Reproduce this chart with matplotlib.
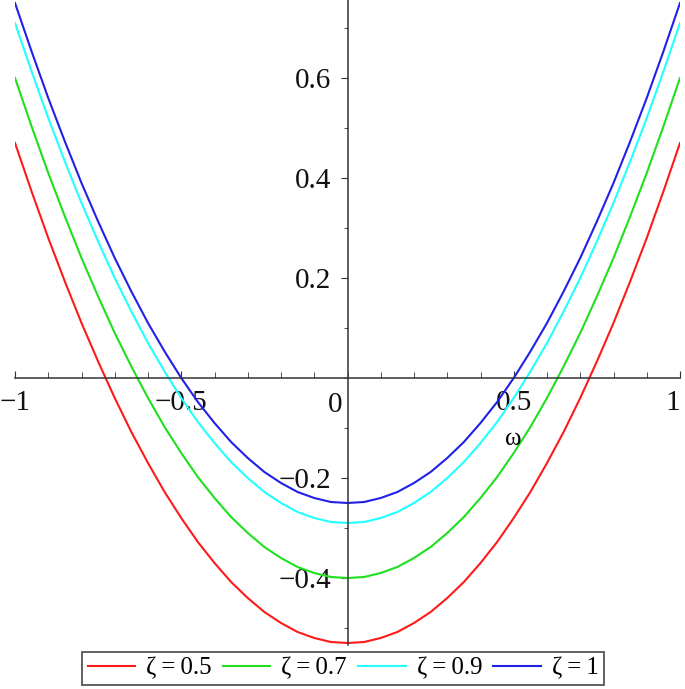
#Plot of the four parabolic curves for different damping ratios zeta

import numpy as np
import matplotlib.pyplot as plt
from matplotlib.ticker import MultipleLocator, FixedLocator, FixedFormatter

#values
omega = [-1.00, -0.95, -0.90, -0.85, -0.80, -0.75, -0.70, -0.65, -0.60, -0.55, -0.50,
         -0.45, -0.40, -0.35, -0.30, -0.25, -0.20, -0.15, -0.10, -0.05, 0.00,
         0.05, 0.10, 0.15, 0.20, 0.25, 0.30, 0.35, 0.40, 0.45, 0.50,
         0.55, 0.60, 0.65, 0.70, 0.75, 0.80, 0.85, 0.90, 0.95, 1.00]

y_red = [0.470, 0.373, 0.280, 0.193, 0.110, 0.033, -0.040, -0.108, -0.170, -0.228, -0.280,
         -0.328, -0.370, -0.408, -0.440, -0.468, -0.490, -0.508, -0.520, -0.528, -0.530,
         -0.528, -0.520, -0.508, -0.490, -0.468, -0.440, -0.408, -0.370, -0.328, -0.280,
         -0.228, -0.170, -0.108, -0.040, 0.033, 0.110, 0.193, 0.280, 0.373, 0.470]
y_green = [0.600, 0.503, 0.410, 0.323, 0.240, 0.163, 0.090, 0.023, -0.040, -0.098, -0.150,
           -0.198, -0.240, -0.278, -0.310, -0.338, -0.360, -0.378, -0.390, -0.398, -0.400,
           -0.398, -0.390, -0.378, -0.360, -0.338, -0.310, -0.278, -0.240, -0.198, -0.150,
           -0.098, -0.040, 0.023, 0.090, 0.163, 0.240, 0.323, 0.410, 0.503, 0.600]
y_cyan = [0.710, 0.613, 0.520, 0.433, 0.350, 0.273, 0.200, 0.133, 0.070, 0.013, -0.040,
          -0.088, -0.130, -0.168, -0.200, -0.228, -0.250, -0.268, -0.280, -0.288, -0.290,
          -0.288, -0.280, -0.268, -0.250, -0.228, -0.200, -0.168, -0.130, -0.088, -0.040,
          0.013, 0.070, 0.133, 0.200, 0.273, 0.350, 0.433, 0.520, 0.613, 0.710]
y_blue = [0.750, 0.653, 0.560, 0.473, 0.390, 0.313, 0.240, 0.173, 0.110, 0.053, 0.000,
          -0.048, -0.090, -0.128, -0.160, -0.188, -0.210, -0.228, -0.240, -0.248, -0.250,
          -0.248, -0.240, -0.228, -0.210, -0.188, -0.160, -0.128, -0.090, -0.048, 0.000,
          0.053, 0.110, 0.173, 0.240, 0.313, 0.390, 0.473, 0.560, 0.653, 0.750]

labels = ["ζ\u2009=\u20090.5", "ζ\u2009=\u20090.7", "ζ\u2009=\u20090.9", "ζ\u2009=\u20091"]
colors = ["#ff1a1a", "#1ee01e", "#22ffff", "#2020e8"]

xtick_vals = [-1, -0.5, 0.5, 1]
xtick_labels = ["\u22121", "\u22120.5", "0.5", "1"]
ytick_vals = [-0.4, -0.2, 0.2, 0.4, 0.6]
ytick_labels = ["\u22120.4", "\u22120.2", "0.2", "0.4", "0.6"]

serif = ["Liberation Serif", "DejaVu Serif"]

fig = plt.figure(figsize=(6.85, 6.89), dpi=100)
ax = fig.add_axes([15/685, 44/689, 665/685, 645/689])

for yv, lab, col in zip([y_red, y_green, y_cyan, y_blue], labels, colors):
    ax.plot(omega, yv, color=col, linewidth=1.5, label=lab)

#axes through the origin, Maple style
ax.set_xlim(-1, 1)
ax.set_ylim(-0.534, 0.756)
for s in ["top", "right"]:
    ax.spines[s].set_visible(False)
ax.spines["bottom"].set_position(("data", 0))
ax.spines["left"].set_position(("data", 0))
for s in ["bottom", "left"]:
    ax.spines[s].set_color("#333333")
    ax.spines[s].set_linewidth(1.1)

ax.xaxis.set_major_locator(FixedLocator(xtick_vals))
ax.xaxis.set_major_formatter(FixedFormatter(xtick_labels))
ax.xaxis.set_minor_locator(MultipleLocator(0.1))
ax.yaxis.set_major_locator(FixedLocator(ytick_vals))
ax.yaxis.set_major_formatter(FixedFormatter(ytick_labels))
ax.yaxis.set_minor_locator(MultipleLocator(0.1))

ax.tick_params(axis="x", which="both", direction="in", color="#333333", pad=9)
ax.tick_params(axis="x", which="major", length=5)
ax.tick_params(axis="x", which="minor", length=4)
ax.tick_params(axis="y", which="both", direction="out", color="#333333", pad=7)
ax.tick_params(axis="y", which="major", length=5)
ax.tick_params(axis="y", which="minor", length=3)
for lbl in ax.get_xticklabels() + ax.get_yticklabels():
    lbl.set_family(serif)
    lbl.set_fontsize(21)
    lbl.set_color("#111111")
ax.get_xticklabels()[-1].set_horizontalalignment("right")

#zero label sits left of the vertical axis
ax.annotate("0", xy=(0, 0), xytext=(-9, -10), textcoords="offset points",
            ha="center", va="top", fontsize=21, family=serif, color="#111111")
ax.text(0.5, -0.122, "ω", ha="center", va="center", fontsize=18, family=serif)

leg = fig.legend(loc="center", bbox_to_anchor=(0.501, 0.030), ncol=4,
                 prop={"family": serif, "size": 18}, fancybox=False,
                 edgecolor="#555555", framealpha=1, handlelength=1.9,
                 handletextpad=0.44, columnspacing=0.44, borderpad=0.22,
                 borderaxespad=0)
leg.get_frame().set_linewidth(1.3)

plt.savefig("out.png", dpi=100)
